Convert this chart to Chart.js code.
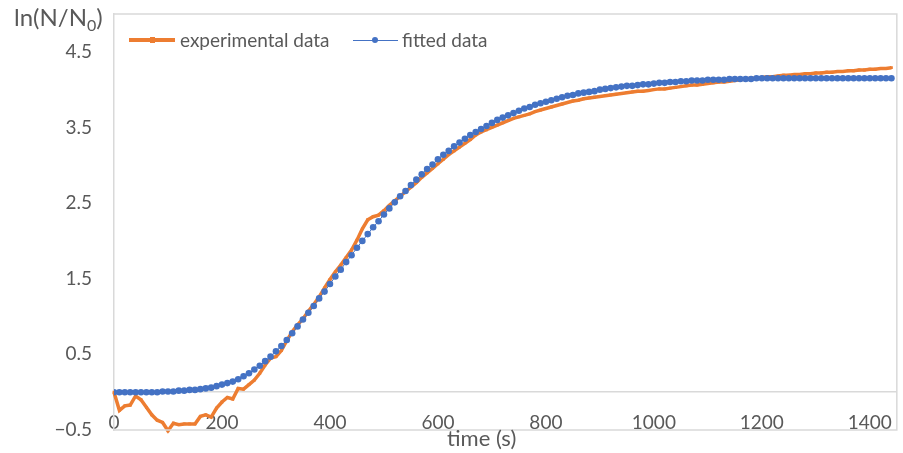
<!DOCTYPE html>
<html>
<head>
<meta charset="utf-8">
<title>ln(N/N0) vs time</title>
<script src="https://cdn.jsdelivr.net/npm/chart.js@4.4.1/dist/chart.umd.min.js"></script>
<style>
  html, body { margin: 0; padding: 0; background: #fff; }
  #wrap { position: relative; width: 903px; height: 453px; font-family: Lato, 'Liberation Sans', sans-serif; color: #595959; }
  #wrap canvas { position: absolute; left: 0; top: 0; }
  .txt { position: absolute; white-space: nowrap; line-height: 24px; }
  .yTitle { left: 14px; top: 5px; font-size: 24px; }
  .yTitle sub { font-size: 16px; vertical-align: -5px; line-height: 0; }
  .xTitle { left: 447px; top: 426px; font-size: 22px; }
  .legText { top: 28px; font-size: 19px; }
  .sw { position: absolute; }
</style>
</head>
<body>
<div id="wrap">
  <canvas id="chart" width="903" height="453"></canvas>
  <div class="txt yTitle">ln(N/N<sub>0</sub>)</div>
  <div class="txt xTitle">time (s)</div>

  <!-- legend -->
  <div class="sw" style="left:129px;top:38px;width:46px;height:4px;background:#ED7D31"></div>
  <div class="sw" style="left:150px;top:37px;width:5px;height:6px;background:#ED7D31"></div>
  <div class="txt legText" style="left:180px">experimental data</div>
  <div class="sw" style="left:353px;top:39.5px;width:45px;height:1.2px;background:#4472C4"></div>
  <div class="sw" style="left:372px;top:37px;width:6px;height:6px;border-radius:50%;background:#4472C4"></div>
  <div class="txt legText" style="left:402px">fitted data</div>
</div>

<script>
// time (s), one sample every 10 s
const times = [
  0, 10, 20, 30, 40, 50, 60, 70, 80, 90,
  100, 110, 120, 130, 140, 150, 160, 170, 180, 190,
  200, 210, 220, 230, 240, 250, 260, 270, 280, 290,
  300, 310, 320, 330, 340, 350, 360, 370, 380, 390,
  400, 410, 420, 430, 440, 450, 460, 470, 480, 490,
  500, 510, 520, 530, 540, 550, 560, 570, 580, 590,
  600, 610, 620, 630, 640, 650, 660, 670, 680, 690,
  700, 710, 720, 730, 740, 750, 760, 770, 780, 790,
  800, 810, 820, 830, 840, 850, 860, 870, 880, 890,
  900, 910, 920, 930, 940, 950, 960, 970, 980, 990,
  1000, 1010, 1020, 1030, 1040, 1050, 1060, 1070, 1080, 1090,
  1100, 1110, 1120, 1130, 1140, 1150, 1160, 1170, 1180, 1190,
  1200, 1210, 1220, 1230, 1240, 1250, 1260, 1270, 1280, 1290,
  1300, 1310, 1320, 1330, 1340, 1350, 1360, 1370, 1380, 1390,
  1400, 1410, 1420, 1430, 1440,
];

// ln(N/N0), measured
const experimental = [
  0.00, -0.24, -0.18, -0.17, -0.05, -0.10, -0.20, -0.30, -0.37, -0.40,
  -0.51, -0.41, -0.43, -0.42, -0.42, -0.42, -0.32, -0.30, -0.33, -0.21,
  -0.13, -0.07, -0.09, 0.05, 0.04, 0.10, 0.16, 0.25, 0.36, 0.45,
  0.47, 0.55, 0.68, 0.80, 0.89, 0.97, 1.07, 1.16, 1.26, 1.38,
  1.49, 1.59, 1.68, 1.78, 1.88, 2.01, 2.16, 2.28, 2.32, 2.34,
  2.40, 2.47, 2.53, 2.59, 2.65, 2.71, 2.77, 2.84, 2.90, 2.96,
  3.02, 3.08, 3.14, 3.19, 3.24, 3.29, 3.34, 3.40, 3.44, 3.47,
  3.50, 3.53, 3.56, 3.59, 3.62, 3.64, 3.66, 3.68, 3.71, 3.73,
  3.75, 3.77, 3.79, 3.81, 3.83, 3.85, 3.86, 3.88, 3.89, 3.90,
  3.91, 3.92, 3.93, 3.94, 3.95, 3.96, 3.97, 3.98, 3.98, 3.99,
  4.00, 4.01, 4.01, 4.02, 4.03, 4.04, 4.05, 4.06, 4.06, 4.07,
  4.08, 4.09, 4.10, 4.10, 4.11, 4.12, 4.13, 4.14, 4.15, 4.15,
  4.16, 4.17, 4.17, 4.18, 4.19, 4.19, 4.20, 4.20, 4.21, 4.21,
  4.22, 4.22, 4.23, 4.23, 4.24, 4.24, 4.25, 4.25, 4.26, 4.26,
  4.27, 4.27, 4.28, 4.28, 4.29,
];

// ln(N/N0), model fit
const fitted = [
  0.00, 0.00, 0.00, 0.00, 0.00, 0.00, 0.00, 0.00, 0.00, 0.01,
  0.01, 0.01, 0.02, 0.02, 0.03, 0.03, 0.04, 0.05, 0.06, 0.08,
  0.10, 0.12, 0.14, 0.17, 0.21, 0.25, 0.30, 0.35, 0.41, 0.47,
  0.54, 0.61, 0.69, 0.78, 0.87, 0.96, 1.05, 1.14, 1.24, 1.33,
  1.43, 1.53, 1.62, 1.72, 1.81, 1.91, 2.00, 2.09, 2.18, 2.26,
  2.35, 2.43, 2.51, 2.59, 2.66, 2.74, 2.81, 2.88, 2.95, 3.01,
  3.08, 3.14, 3.19, 3.25, 3.30, 3.35, 3.40, 3.44, 3.48, 3.52,
  3.56, 3.60, 3.63, 3.66, 3.69, 3.72, 3.75, 3.77, 3.80, 3.82,
  3.84, 3.86, 3.88, 3.90, 3.92, 3.93, 3.95, 3.96, 3.97, 3.98,
  4.00, 4.01, 4.02, 4.03, 4.04, 4.05, 4.05, 4.06, 4.07, 4.07,
  4.08, 4.09, 4.09, 4.10, 4.10, 4.11, 4.11, 4.12, 4.12, 4.12,
  4.13, 4.13, 4.13, 4.13, 4.14, 4.14, 4.14, 4.14, 4.14, 4.15,
  4.15, 4.15, 4.15, 4.15, 4.15, 4.15, 4.15, 4.15, 4.15, 4.15,
  4.15, 4.15, 4.15, 4.15, 4.15, 4.15, 4.15, 4.15, 4.15, 4.15,
  4.15, 4.15, 4.15, 4.15, 4.15,
];

const xTicks = [0, 200, 400, 600, 800, 1000, 1200, 1400];
const yTicks = [-0.5, 0.5, 1.5, 2.5, 3.5, 4.5];

const AXIS_GREY = '#d9d9d9';
const TEXT_GREY = '#595959';

// top / right / bottom edges of the plot box
const plotFrame = {
  id: 'plotFrame',
  afterDraw(chart) {
    const { ctx, chartArea: a } = chart;
    ctx.save();
    ctx.strokeStyle = AXIS_GREY;
    ctx.lineWidth = 1.5;
    ctx.beginPath();
    ctx.moveTo(a.left, a.top);
    ctx.lineTo(a.right, a.top);
    ctx.lineTo(a.right, a.bottom);
    ctx.lineTo(a.left, a.bottom);
    ctx.stroke();
    ctx.restore();
  },
};

const toPoints = (ys) => times.map((t, i) => ({ x: t, y: ys[i] }));

new Chart(document.getElementById('chart'), {
  type: 'line',
  data: {
    datasets: [
      {
        label: 'fitted data',
        data: toPoints(fitted),
        borderColor: '#4472C4',
        backgroundColor: '#4472C4',
        borderWidth: 1,
        pointRadius: 3.3,
        pointBorderWidth: 0,
        pointStyle: 'circle',
      },
      {
        label: 'experimental data',
        data: toPoints(experimental),
        borderColor: '#ED7D31',
        backgroundColor: '#ED7D31',
        borderWidth: 3.5,
        pointRadius: 2,
        pointBorderWidth: 0,
        pointStyle: 'rect',
        clip: 4,
      },
    ],
  },
  options: {
    responsive: false,
    animation: false,
    events: [],
    layout: { padding: { top: 14, right: 1, bottom: 23, left: 0 } },
    plugins: { legend: { display: false }, tooltip: { enabled: false } },
    scales: {
      x: {
        type: 'linear',
        position: { y: 0 },
        min: 0,
        max: 1450,
        afterBuildTicks: (scale) => { scale.ticks = xTicks.map((v) => ({ value: v })); },
        afterFit: (scale) => { scale.height = 0; },
        grid: { display: false },
        border: { color: AXIS_GREY, width: 1.5 },
        ticks: {
          color: TEXT_GREY,
          padding: 11,
          maxRotation: 0,
          font: { family: 'Lato', size: 19 },
          callback: (v) => String(v),
        },
      },
      y: {
        min: -0.5,
        max: 5,
        afterBuildTicks: (scale) => { scale.ticks = yTicks.map((v) => ({ value: v })); },
        afterFit: (scale) => { scale.width = 114; },
        // label gap comes from an invisible tick mark, so the plot keeps its height
        grid: { display: false, drawTicks: true, tickLength: 22 },
        border: { color: AXIS_GREY, width: 1.5 },
        ticks: {
          color: TEXT_GREY,
          padding: 0,
          font: { family: 'Lato', size: 19 },
          callback: (v) => (v < 0 ? '\u2212' + Math.abs(v).toFixed(1) : v.toFixed(1)),
        },
      },
    },
  },
  plugins: [plotFrame],
});
</script>
</body>
</html>
